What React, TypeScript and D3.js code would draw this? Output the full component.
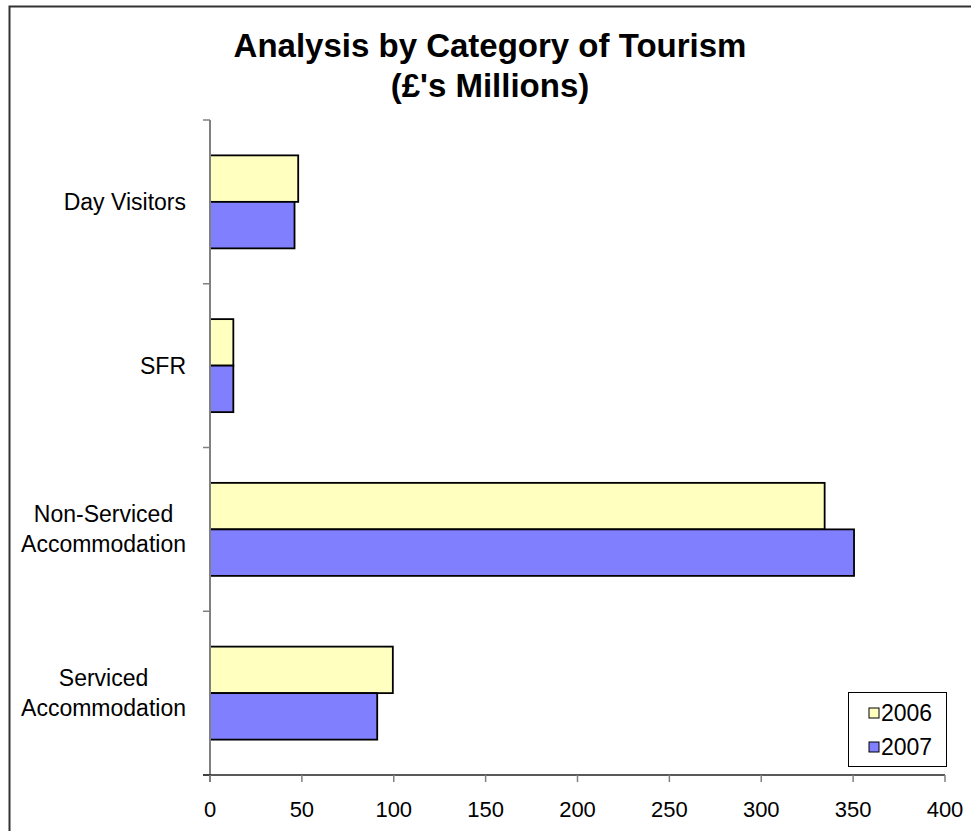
import * as d3 from "d3";

const categories = ["Day Visitors", "SFR", "Non-Serviced\nAccommodation", "Serviced\nAccommodation"];
const seriesNames = ["2006", "2007"];
const values2006 = [48, 12.7, 334.5, 99.5];
const values2007 = [46, 12.7, 350.5, 91];
const xTicks = [0, 50, 100, 150, 200, 250, 300, 350, 400];

const colors = ["#ffffc0", "#8080ff"];
const FONT = "'Liberation Sans', Arial, Helvetica, sans-serif";

function textWidth(s: string, size: number) {
  const ctx = document.createElement("canvas").getContext("2d");
  if (!ctx) return s.length * size * 0.55;
  ctx.font = `${size}px ${FONT}`;
  return ctx.measureText(s).width;
}

export default function App() {
  const width = 971;
  const height = 831;
  const plot = { left: 210, right: 945, top: 120, bottom: 775 };

  const x = d3.scaleLinear().domain([0, 400]).range([plot.left, plot.right]);
  const y = d3
    .scaleBand<string>()
    .domain(categories)
    .range([plot.top, plot.bottom])
    .paddingInner(0.432)
    .paddingOuter(0.216);
  const inner = d3.scaleBand<string>().domain(seriesNames).range([0, y.bandwidth()]);

  const data = categories.map((c, i) => ({ cat: c, vals: [values2006[i], values2007[i]] }));
  const step = y.step();
  // category boundaries for the y-axis tick marks
  const yTicks = d3.range(categories.length + 1).map((i) => plot.top + i * step);

  const labelSize = 23;

  return (
    <svg
      width={width}
      height={height}
      style={{ position: "absolute", left: 0, top: 0, display: "block", background: "#fff" }}
      fontFamily={FONT}
    >
      {/* chart frame, runs off the right and bottom of the picture */}
      <rect x={9.5} y={6.5} width={1000} height={900} fill="#fff" stroke="#333" strokeWidth={2} />

      <text x={490} y={57} textAnchor="middle" fontSize={33} fontWeight="bold" fill="#000">
        Analysis by Category of Tourism
      </text>
      <text x={490} y={97} textAnchor="middle" fontSize={33} fontWeight="bold" fill="#000">
        (£'s Millions)
      </text>

      {data.map((d) => (
        <g key={d.cat}>
          {d.vals.map((v, j) => (
            <rect
              key={j}
              x={x(0)}
              y={(y(d.cat) ?? 0) + (inner(seriesNames[j]) ?? 0)}
              width={x(v) - x(0)}
              height={inner.bandwidth()}
              fill={colors[j]}
              stroke="#000"
              strokeWidth={1.8}
            />
          ))}
        </g>
      ))}

      {/* y axis */}
      <line x1={plot.left} x2={plot.left} y1={plot.top} y2={plot.bottom + 7} stroke="#808080" strokeWidth={2} />
      {yTicks.map((t, i) => (
        <line key={i} x1={plot.left - 7} x2={plot.left} y1={t} y2={t} stroke="#808080" strokeWidth={1.5} />
      ))}

      {/* x axis */}
      <line x1={plot.left - 7} x2={plot.right} y1={plot.bottom} y2={plot.bottom} stroke="#222" strokeWidth={1.5} />
      {xTicks.map((t) => (
        <g key={t}>
          <line x1={x(t)} x2={x(t)} y1={plot.bottom} y2={plot.bottom + 7} stroke="#808080" strokeWidth={1.5} />
          <text x={x(t)} y={plot.bottom + 42} textAnchor="middle" fontSize={22} fill="#000">
            {t}
          </text>
        </g>
      ))}

      {/* category labels: right-aligned block, lines centred inside it */}
      {categories.map((c) => {
        const lines = c.split("\n");
        const w = Math.max(...lines.map((l) => textWidth(l, labelSize)));
        const cx = 186 - w / 2;
        const cy = (y(c) ?? 0) + y.bandwidth() / 2;
        const lh = 30;
        return lines.map((l, k) => (
          <text
            key={c + k}
            x={cx}
            y={cy + (k - (lines.length - 1) / 2) * lh + 8}
            textAnchor="middle"
            fontSize={labelSize}
            fill="#000"
          >
            {l}
          </text>
        ));
      })}

      {/* legend */}
      <rect x={848.5} y={692.5} width={98} height={74} fill="#fff" stroke="#000" strokeWidth={1} />
      {seriesNames.map((s, j) => (
        <g key={s} transform={`translate(869, ${713 + j * 34})`}>
          <rect x={0} y={-5} width={10} height={10} fill={colors[j]} stroke="#000" strokeWidth={1} />
          <text x={12} y={8} fontSize={23} fill="#000">
            {s}
          </text>
        </g>
      ))}
    </svg>
  );
}
